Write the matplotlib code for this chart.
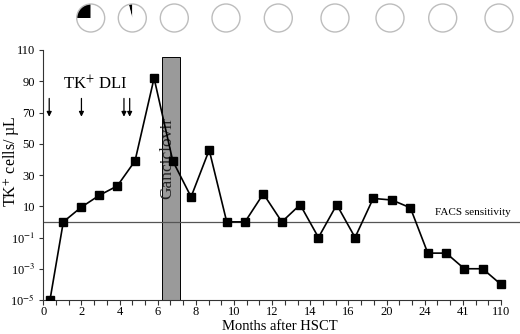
import numpy as np
import matplotlib
matplotlib.use('Agg')
import matplotlib.pyplot as plt
from matplotlib.patches import Circle

plt.rcParams['font.family'] = 'Liberation Serif'
plt.rcParams['mathtext.fontset'] = 'stix'

# data
months = [0.35, 1.05, 1.98, 2.94, 3.88, 4.81, 5.81, 6.79, 7.75, 8.70, 9.62, 10.58, 11.54,
          12.51, 13.47, 14.43, 15.39, 16.7, 18.6, 20.56, 22.5, 25.4, 33.6, 43.8, 76.9, 110]
cells = [1e-5, 1, 8.5, 17, 23, 39, 92, 39, 16, 46, 1, 1, 18,
         1, 11, 0.1, 11, 0.1, 15, 14, 8, 1e-2, 1e-2, 1e-3, 1e-3, 1e-4]

x_ticks = [0, 2, 4, 6, 8, 10, 12, 14, 16, 20, 24, 41, 110]
y_ticks = [1e-5, 1e-3, 1e-1, 10, 30, 50, 70, 90, 110]
y_tick_labels = ['10$^{-5}$', '10$^{-3}$', '10$^{-1}$', '10', '30', '50', '70', '90', '110']

dli_months = [0.31, 2.0, 4.23, 4.53]
ganciclovir = (6.21, 7.17)   # start, end month
ganciclovir_top = 105.4
facs_level = 1

pie_fractions = [0.25, 0.04, 0, 0, 0, 0, 0, 0, 0]

# broken x axis: each labelled tick is one step
x_breaks = np.array(x_ticks + [179], dtype=float)
x_pos = np.arange(len(x_breaks), dtype=float)

def x_fwd(v):
    return np.interp(v, x_breaks, x_pos)

def x_inv(p):
    return np.interp(p, x_pos, x_breaks)

# y axis: log below 10 (two decades per step), linear above 10 (20 per step)
def y_fwd(v):
    v = np.maximum(np.asarray(v, dtype=float), 1e-30)
    return np.where(v >= 10, 3 + (v - 10) / 20, 3 + (np.log10(v) - 1) / 2)

def y_inv(p):
    p = np.asarray(p, dtype=float)
    return np.where(p >= 3, 10 + (p - 3) * 20, 10 ** (1 + (p - 3) * 2))

W, H = 520, 334
fig = plt.figure(figsize=(W / 100, H / 100), dpi=100)
ax = fig.add_axes([43.3 / W, 34 / H, (W - 43.3) / W, 250 / H])
ax.set_xscale('function', functions=(x_fwd, x_inv))
ax.set_yscale('function', functions=(y_fwd, y_inv))
ax.set_xlim(0, x_inv(12.5))
ax.set_ylim(1e-5, 110)

for s in ['top', 'right']:
    ax.spines[s].set_visible(False)
ax.spines['bottom'].set_bounds(0, 110)
for s in ['left', 'bottom']:
    ax.spines[s].set_color('#333333')
    ax.spines[s].set_linewidth(0.8)

ax.set_xticks(x_ticks)
ax.set_xticklabels([str(t) for t in x_ticks], fontsize=9)
ax.set_xticks(x_inv(np.arange(0, 37) / 3), minor=True)
ax.set_yticks(y_ticks)
ax.set_yticklabels(y_tick_labels, fontsize=9)
ax.tick_params(axis='x', which='both', length=3.5, width=0.8, color='#333333', pad=0.5)
ax.tick_params(axis='y', length=3, width=0.8, color='#333333', pad=3)

# ganciclovir bar
ax.bar(ganciclovir[0], ganciclovir_top - 1e-5, width=ganciclovir[1] - ganciclovir[0],
       bottom=1e-5, align='edge', color='#9a9a9a', edgecolor='black', linewidth=0.7, zorder=1)
ax.text(6.49, 41, 'Ganciclovir', rotation=90, ha='center', va='center',
        fontsize=12.5, color='#222222', zorder=2)

# facs sensitivity
ax.axhline(facs_level, color='#555555', lw=0.9, zorder=1.5)
ax.text(128, 2.75, 'FACS sensitivity', ha='right', va='baseline', fontsize=8)

# series
ax.plot(months, cells, color='black', lw=1.2, marker='s', markersize=6.2,
        markerfacecolor='black', markeredgecolor='black', zorder=3)

# DLI arrows
for m in dli_months:
    ax.annotate('', xy=(m, 67.3), xytext=(m, 79),
                arrowprops=dict(arrowstyle='-|>', color='black', lw=0.9,
                                mutation_scale=7, shrinkA=0, shrinkB=0))
ax.text(1.03, 84.8, 'TK$^{+}$ DLI', ha='left', va='baseline', fontsize=12)

fig.text(280 / W, 1 - 330 / H, 'Months after HSCT', ha='center', va='baseline', fontsize=10.5)
fig.text(11 / W, 1 - 161 / H, 'TK$^{+}$ cells/ µL', rotation=90, ha='center', va='center',
         fontsize=11.5)

# pies on top
pie_x_px = [90.7, 132.3, 174.3, 226, 278.3, 335, 390, 442.7, 499]
r = 14
for cx, f in zip(pie_x_px, pie_fractions):
    pax = fig.add_axes([(cx - r - 1) / W, (H - 18 - r - 1) / H, (2 * r + 2) / W, (2 * r + 2) / H])
    pax.pie([f, 1 - f], colors=['black', 'white'], startangle=90, counterclock=True,
            radius=r / (r + 1), wedgeprops=dict(linewidth=0))
    pax.add_patch(Circle((0, 0), r / (r + 1), fill=False, ec='#bdbdbd', lw=1.0))
    pax.set_xlim(-1, 1)
    pax.set_ylim(-1, 1)
    pax.set_aspect('equal')
    pax.axis('off')

fig.savefig('out.png', dpi=100)
